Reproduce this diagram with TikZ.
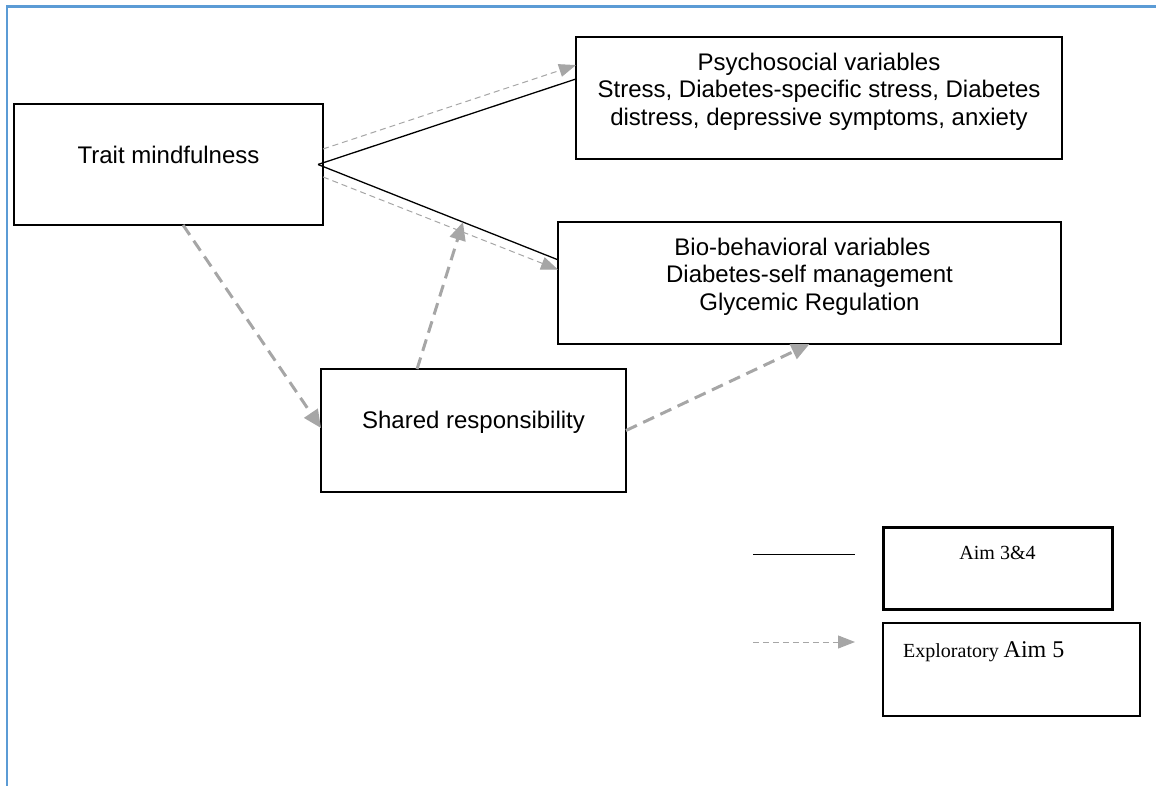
\documentclass[tikz,border=0pt]{standalone}
\usepackage{fontspec}
\setmainfont{Liberation Sans}
\newfontfamily\legendfont{Liberation Serif}
\usetikzlibrary{arrows.meta,calc}
\definecolor{frameblue}{HTML}{5B9BD5}
\definecolor{dashgray}{HTML}{A6A6A6}
\begin{document}
\begin{tikzpicture}[x=1pt,y=-1pt,
  box/.style={draw=black, line width=1.6pt, rectangle, anchor=north west, inner sep=0pt, outer sep=0pt},
  lbl/.style={inner sep=0pt, font=\fontsize{24}{27.6}\selectfont, align=center},
  leglbl/.style={inner sep=0pt, font=\legendfont\fontsize{20}{24}\selectfont},
  solidcon/.style={draw=black, line width=1.3pt},
  thinarrow/.style={draw=dashgray, line width=1pt, dash pattern=on 6pt off 4pt, -{Triangle[length=17pt,width=13pt]}},
  thickarrow/.style={draw=dashgray, line width=3pt, dash pattern=on 12pt off 7pt, -{Triangle[length=18pt,width=16pt]}}
]
\useasboundingbox (0,0) rectangle (1156,786);
% frame
\draw[frameblue, line width=2.8pt] (1156,6.3) -- (7,6.3) -- (7,786);

% boxes
\node[box, minimum width=309pt, minimum height=121pt] (tm) at (14,104) {};
\node[box, minimum width=486pt, minimum height=122pt] (psy) at (576,37) {};
\node[box, minimum width=503pt, minimum height=122pt] (bio) at (558,222) {};
\node[box, minimum width=305pt, minimum height=123pt] (sr) at (321,369) {};
\node[box, line width=3pt, minimum width=229pt, minimum height=82pt] (aim) at (883,527) {};
\node[box, line width=1.3pt, minimum width=257pt, minimum height=93pt] (expl) at (883,623) {};

% texts
\node[lbl, anchor=base] (tmT) at ($(tm.north)+(0,60)$) {Trait mindfulness};
\node[lbl, anchor=north] (psyT) at ($(psy.north)+(0,15.5)$) {Psychosocial variables\\Stress, Diabetes-specific stress, Diabetes\\distress, depressive symptoms, anxiety};
\node[lbl, anchor=north] (bioT) at ($(bio.north)+(0,15.5)$) {Bio-behavioral variables\hspace*{14pt}\\Diabetes-self management\\Glycemic Regulation};
\node[lbl, anchor=base] (srT) at ($(sr.north)+(0,59)$) {Shared responsibility};
\node[leglbl, anchor=base] (aimT) at ($(aim.north)+(0,32)$) {Aim 3\&4};
\node[leglbl, anchor=base west] (explT) at ($(expl.north west)+(20,34)$) {Exploratory {\fontsize{24}{28}\selectfont Aim 5}};

% connector points
\coordinate (tmS) at ([xshift=-5pt]tm.east);
\coordinate (tmU) at ($(tm.north east)!0.372!(tm.south east)$);
\coordinate (tmD) at ($(tm.north east)!0.603!(tm.south east)$);
\coordinate (psyS) at ($(psy.north west)!0.344!(psy.south west)$);
\coordinate (psyD) at ($(psy.north west)!0.23!(psy.south west)$);
\coordinate (bioS) at ($(bio.north west)!0.31!(bio.south west)$);
\coordinate (bioD) at ($(bio.north west)!0.39!(bio.south west)$);
\coordinate (tmB) at ($(tm.south west)!0.547!(tm.south east)$);
\coordinate (srL) at ($(sr.north west)!0.48!(sr.south west)$);
\coordinate (srU) at ($(sr.north west)!0.315!(sr.north east)$);
\coordinate (mod) at ($(tmS)!0.604!(bioS)$);

% connectors
\draw[solidcon] (tmS) -- (psyS);
\draw[solidcon] (tmS) -- (bioS);
\draw[thinarrow] (tmU) -- (psyD);
\draw[thinarrow] (tmD) -- (bioD);
\draw[thickarrow] (tmB) -- (srL);
\draw[thickarrow] (srU) -- (mod);
\draw[thickarrow] (sr.east) -- (bio.south);

% legend
\coordinate (lsA) at (753,554);
\coordinate (lsB) at (855,554);
\coordinate (ldA) at (753,642);
\coordinate (ldB) at (855,642);
\draw[solidcon, line width=1pt] (lsA) -- (lsB);
\draw[thinarrow] (ldA) -- (ldB);
\end{tikzpicture}
\end{document}
